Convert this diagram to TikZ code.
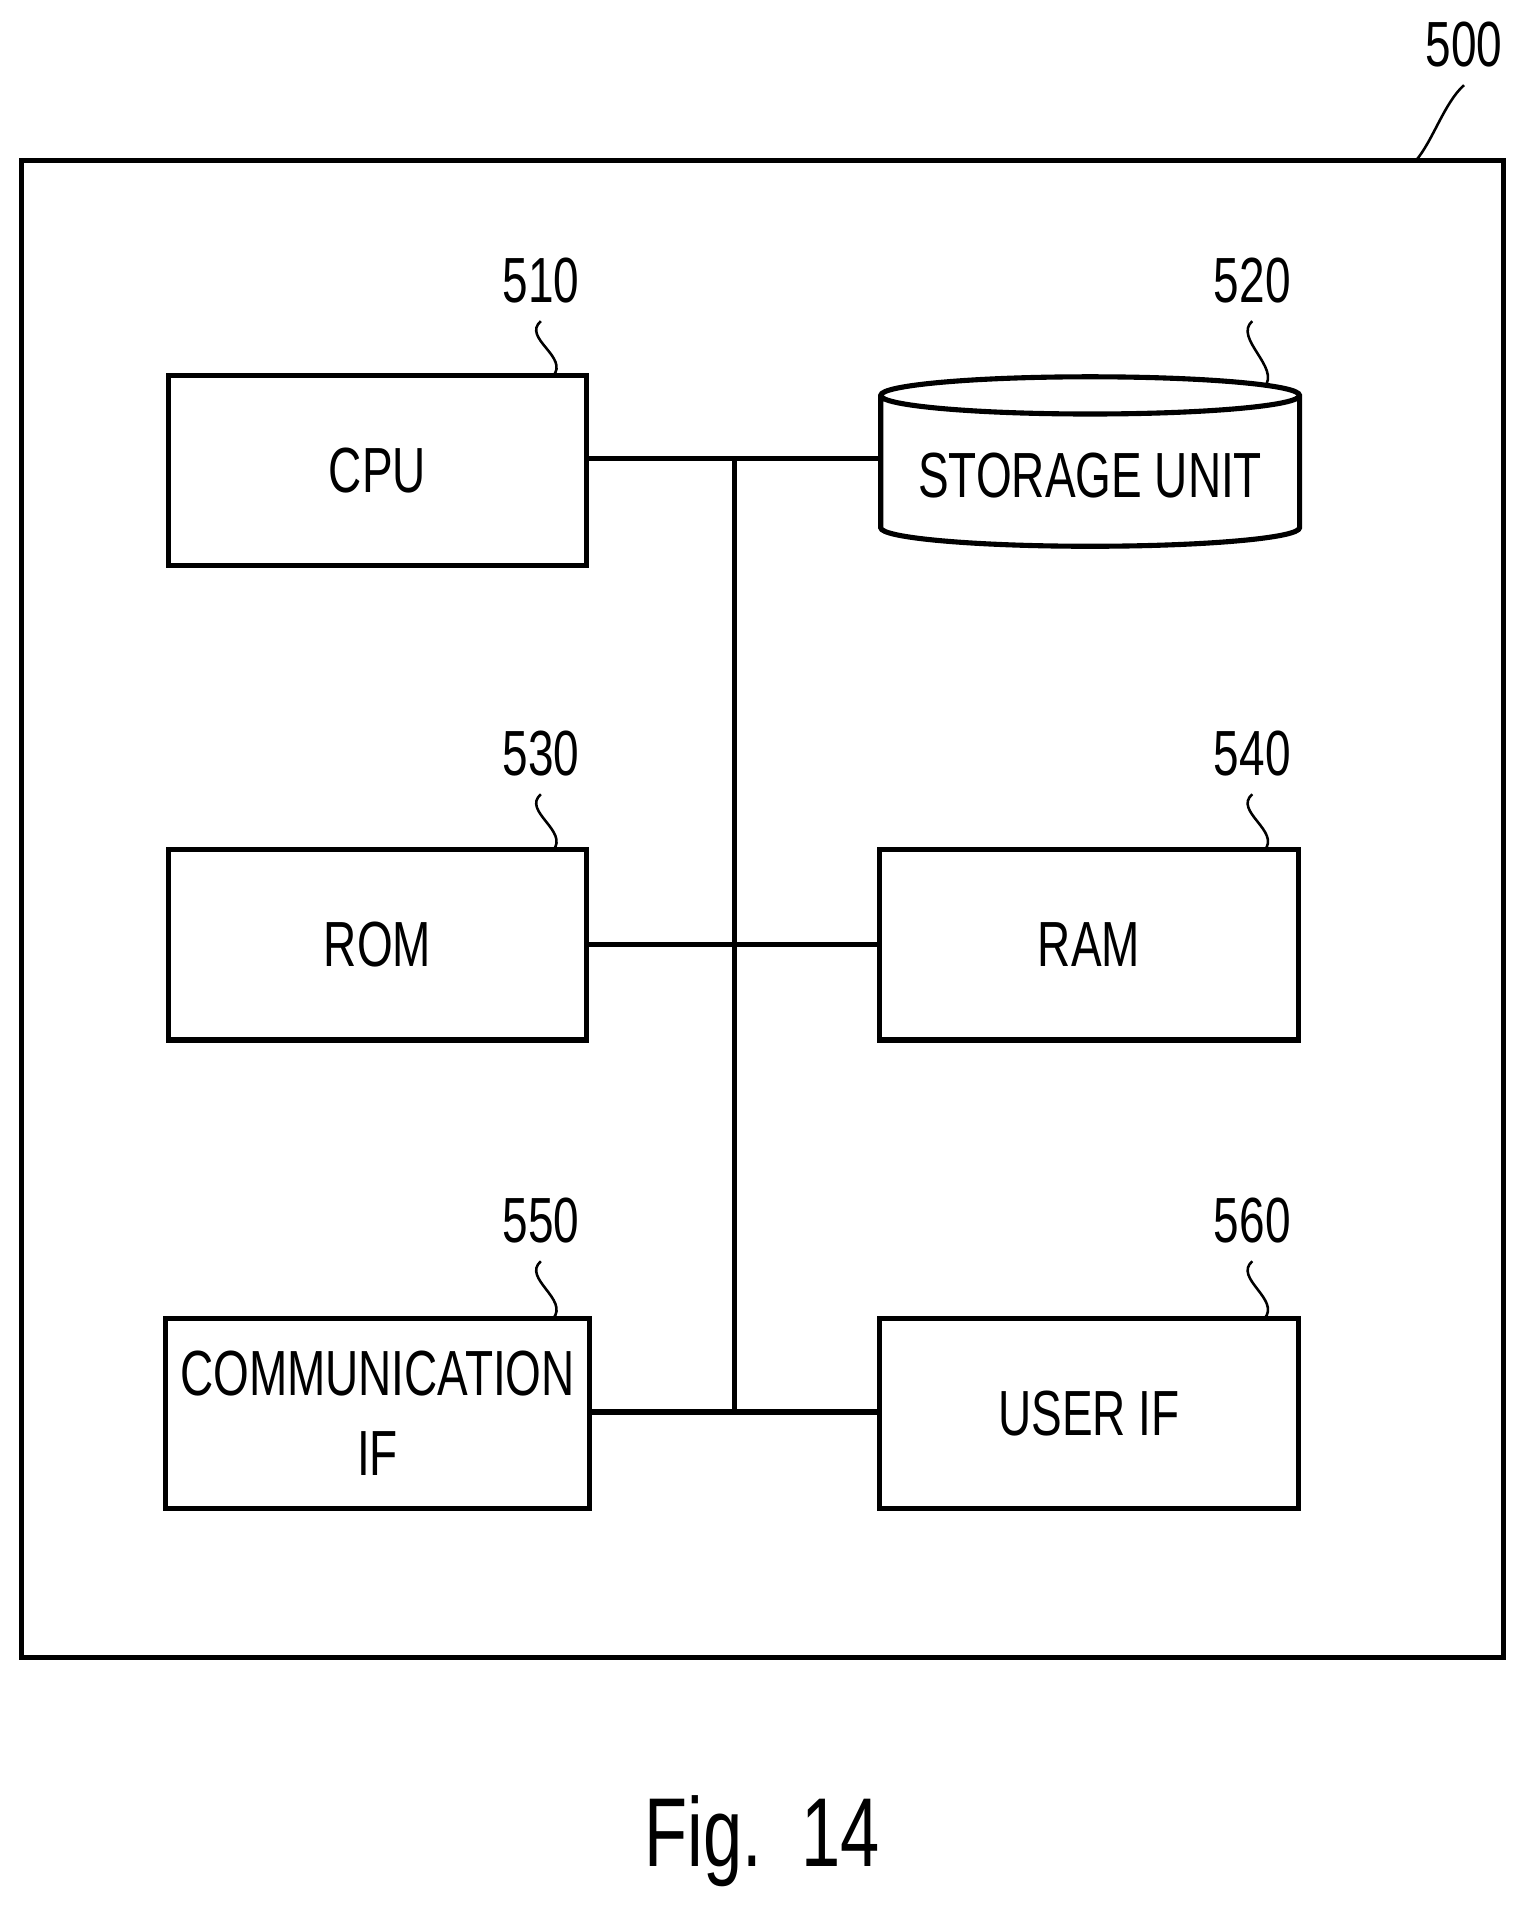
\documentclass[tikz,border=0pt]{standalone}
\usepackage{fontspec}
\setmainfont{Liberation Sans}[FakeStretch=0.72]
\usetikzlibrary{shapes.geometric}
\tikzset{
  unit/.style={draw, line width=1.2pt, minimum width=3.46cm, minimum height=1.57cm,
    align=center, font=\fontsize{15}{19}\selectfont},
  ref/.style={font=\fontsize{15}{18}\selectfont, inner sep=1pt},
  lead/.style={line width=0.6pt},
  bus/.style={line width=1.2pt}
}
\newcommand{\lead}[2]{\draw[lead] ([yshift=-3pt]#1.south) .. controls +(-16,14) and +(14,-16) .. (#2);}
\begin{document}
\begin{tikzpicture}[x=0.01cm,y=-0.01cm]
\useasboundingbox (0,0) rectangle (1270,1577);
% frame
\draw[line width=1.2pt] (18,133) rectangle (1243,1370);
\node[ref] (l500) at (1210,37) {500};
\coordinate (c500) at (1170,133);
\lead{l500}{c500}
% units
\node[unit, cylinder, shape border rotate=90, aspect=0.1, minimum width=3.46cm, minimum height=1.4cm] (sto) at (901,393) {STORAGE UNIT};
\node[unit] (cpu) at (312,389) {CPU};
\node[unit] (rom) at (312,781) {ROM};
\node[unit] (ram) at (900,781) {RAM};
\node[unit] (com) at (312,1168) {COMMUNICATION\\IF};
\node[unit] (usr) at (900,1168) {USER IF};
% reference numbers
\node[ref] (l510) at (447,232) {510};
\node[ref] (l520) at (1035,232) {520};
\node[ref] (l530) at (447,623) {530};
\node[ref] (l540) at (1035,623) {540};
\node[ref] (l550) at (447,1009) {550};
\node[ref] (l560) at (1035,1009) {560};
\coordinate (c510) at (457,311);
\coordinate (c520) at (1045,320);
\coordinate (c530) at (457,703);
\coordinate (c540) at (1045,703);
\coordinate (c550) at (457,1090);
\coordinate (c560) at (1045,1090);
\foreach \n in {510,520,530,540,550,560}{\lead{l\n}{c\n}}
% bus
\coordinate (b1) at (607,379);
\coordinate (b2) at (607,781);
\coordinate (b3) at (607,1167);
\draw[bus] (b1) -- (b3);
\draw[bus] (cpu.east |- b1) -- (sto.west |- b1);
\draw[bus] (rom.east) -- (ram.west);
\draw[bus] (com.east |- b3) -- (usr.west |- b3);
\node[font=\fontsize{23}{27}\selectfont] (fig) at (630,1522) {Fig.\ \ 14};
\end{tikzpicture}
\end{document}
